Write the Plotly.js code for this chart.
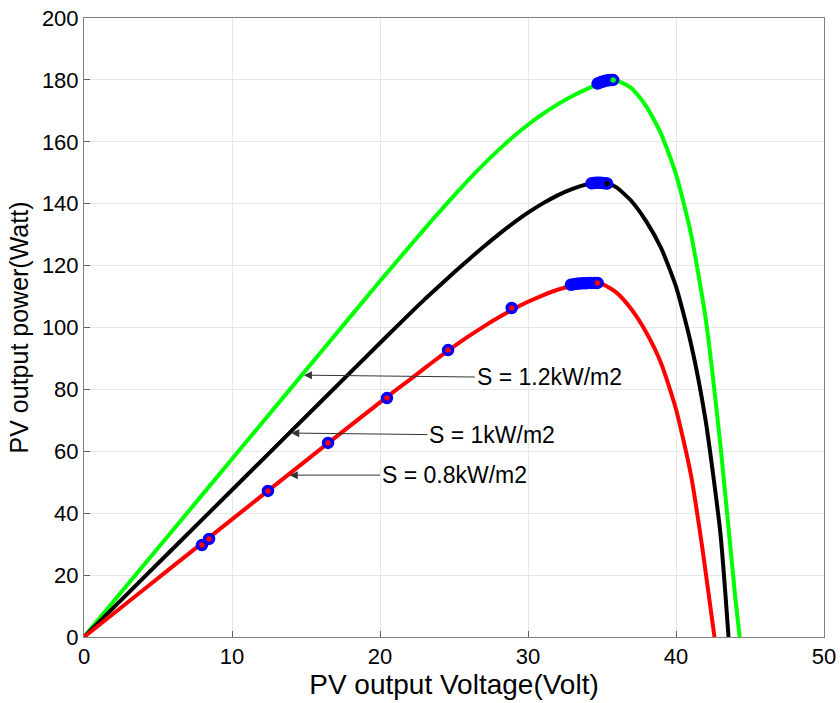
<!DOCTYPE html>
<html>
<head>
<meta charset="utf-8">
<script src="https://cdn.plot.ly/plotly-3.0.1.min.js"></script>
<style>html,body{margin:0;padding:0;background:#fff;}#chart{width:840px;height:703px;}</style>
</head>
<body>
<div id="chart"></div>
<script>
// S = 1.2 kW/m2 (green)
const greenV = [0, 4, 8, 12, 16, 20, 21, 22, 23, 24, 25, 26, 27, 28, 29, 30, 31, 32, 33, 34, 35, 35.6, 36, 37, 38, 39, 40, 41, 42, 43, 44, 44.3];
const greenP = [0, 23, 46, 69, 92, 115, 120.6, 126.2, 131.8, 137.3, 142.6, 147.8, 152.7, 157.3, 161.6, 165.5, 169.0, 172.1, 174.8, 177.1, 179.1, 180, 179.8, 177.3, 171.4, 162.5, 149.5, 130.5, 103, 62, 13, 0];
// S = 1 kW/m2 (black)
const blackV = [0, 4, 8, 12, 16, 20, 21, 22, 23, 24, 25, 26, 27, 28, 29, 30, 31, 32, 33, 34, 34.7, 35.5, 36, 37, 38, 39, 40, 41, 42, 43, 43.55];
const blackP = [0, 19, 38, 57, 76, 95, 99.7, 104.4, 109, 113.4, 117.8, 122, 126.1, 130, 133.7, 137.1, 140.1, 142.7, 144.8, 146.3, 146.8, 146.3, 145.2, 140.8, 134.2, 125.6, 113.2, 95, 70, 33.5, 0];
// S = 0.8 kW/m2 (red)
const redV = [0, 4, 8, 12, 16, 20, 21, 22, 23, 24, 25, 26, 27, 28, 29, 30, 31, 32, 33, 34, 34.6, 35, 36, 37, 38, 39, 40, 41, 41.8, 42.6];
const redP = [0, 15.2, 30.4, 45.6, 60.8, 75.8, 79.5, 83.1, 86.8, 90.4, 93.9, 97.2, 100.3, 103.2, 105.9, 108.3, 110.4, 112.2, 113.5, 114.3, 114.4, 114.1, 111.2, 105.8, 98.3, 88.4, 73.6, 52.6, 28.1, 0];
// operating points (markers)
const trackV = [7.97, 8.45, 12.43, 16.49, 20.47, 24.6, 28.9];
const trackP = [29.7, 31.7, 47.2, 62.7, 77.2, 92.7, 106.3];
const mppRedV = [32.9, 33.1, 33.3, 33.5, 33.7, 33.9, 34.1, 34.3, 34.5, 34.7];
const mppRedP = [113.8, 114.0, 114.1, 114.2, 114.3, 114.3, 114.4, 114.4, 114.4, 114.4];
const mppBlackV = [34.3, 34.45, 34.6, 34.75, 34.9, 35.05, 35.2, 35.35];
const mppBlackP = [146.6, 146.7, 146.8, 146.8, 146.8, 146.7, 146.6, 146.5];
const mppGreenV = [34.7, 34.85, 35.0, 35.15, 35.3, 35.45, 35.6, 35.75];
const mppGreenP = [178.8, 179.1, 179.4, 179.6, 179.8, 179.9, 180, 180];
// annotations
const labels = ["S = 1.2kW/m2", "S = 1kW/m2", "S = 0.8kW/m2"];
const headV = [14.86, 14.0, 13.9];
const headP = [84.6, 65.9, 52.3];
const tailV = [26.4, 23.2, 20.0];
const tailP = [84.0, 65.4, 52.3];

const font = "Liberation Sans, Arial, sans-serif";
function curve(x, y, c) {
  return {x: x, y: y, type: 'scatter', mode: 'lines', line: {color: c, width: 4, shape: 'spline', smoothing: 0.6}, hoverinfo: 'skip'};
}
function marks(x, y, fill) {
  return {x: x, y: y, type: 'scatter', mode: 'markers', marker: {symbol: 'circle', size: 9, color: fill, line: {color: '#0000ff', width: 3.5}}, hoverinfo: 'skip'};
}
const data = [
  curve(greenV, greenP, '#00ff00'),
  curve(blackV, blackP, '#000000'),
  curve(redV, redP, '#ff0000'),
  marks(trackV, trackP, '#ff0000'),
  marks(mppRedV, mppRedP, '#ff0000'),
  marks(mppBlackV, mppBlackP, '#000000'),
  marks(mppGreenV, mppGreenP, '#00ff00')
];
const annotations = labels.map((t, i) => ({
  x: headV[i], y: headP[i], xref: 'x', yref: 'y',
  ax: tailV[i], ay: tailP[i], axref: 'x', ayref: 'y',
  text: t, showarrow: true, arrowhead: 2, arrowsize: 1.6, arrowwidth: 1, arrowcolor: '#333333',
  xanchor: 'left', yanchor: 'middle', font: {family: font, size: 23, color: '#000'}
}));
const axisCommon = {
  showgrid: true, gridcolor: '#e6e6e6', gridwidth: 1,
  showline: true, linecolor: '#808080', linewidth: 1, mirror: true,
  ticks: 'inside', ticklen: 6, tickcolor: '#606060',
  zeroline: false, tickfont: {family: font, size: 22, color: '#000'}
};
const layout = {
  width: 840, height: 703,
  margin: {l: 84, r: 16, t: 18, b: 66},
  paper_bgcolor: '#fff', plot_bgcolor: '#fff',
  showlegend: false,
  xaxis: Object.assign({}, axisCommon, {range: [0, 50], dtick: 10, title: {text: 'PV output Voltage(Volt)', font: {family: font, size: 28, color: '#000'}, standoff: 2}}),
  yaxis: Object.assign({}, axisCommon, {range: [0, 200], dtick: 20, title: {text: 'PV output power(Watt)', font: {family: font, size: 25, color: '#000'}, standoff: 6}}),
  annotations: annotations
};
Plotly.newPlot('chart', data, layout, {staticPlot: true});
</script>
</body>
</html>
